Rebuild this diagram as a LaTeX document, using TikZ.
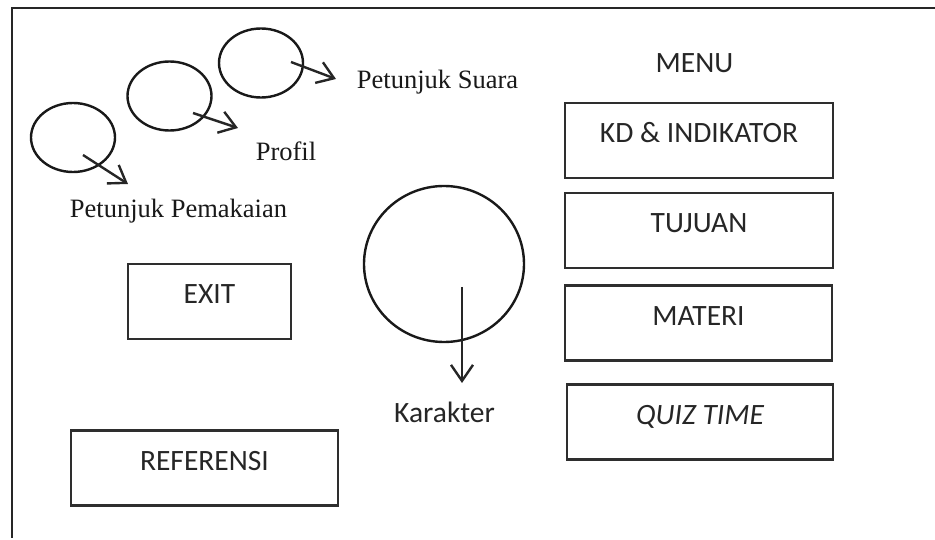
\documentclass[tikz,border=0pt]{standalone}
\usepackage{fontspec}
\setmainfont{Liberation Serif}
\newfontfamily\calibri{Carlito}
\usetikzlibrary{shapes.geometric,arrows.meta}

\begin{document}
\begin{tikzpicture}[x=1pt,y=-1pt,
  frame/.style={line width=2.4pt, draw=black!85},
  bubble/.style={draw=black!90, line width=2.4pt, ellipse, inner sep=0pt,
    minimum width=84pt, minimum height=69pt},
  pointer/.style={line width=2.4pt, draw=black!85,
    -{Straight Barb[length=16pt,width=22pt]}},
  serif/.style={font=\fontsize{26.5}{30}\selectfont, text=black!90,
    inner sep=0pt, anchor=base},
  sans/.style={font=\calibri\fontsize{29.5}{33}\selectfont, text=black!85,
    inner sep=0pt, anchor=base},
  menubox/.style={draw=black!82, line width=2.4pt,
    font=\calibri\fontsize{29.5}{33}\selectfont, text=black!85,
    minimum height=75pt, text height=19pt, text depth=14pt, inner sep=0pt},
]
\useasboundingbox (0,0) rectangle (935,540);

% page frame (top and left edges)
\coordinate (frameTR) at (935,8);
\coordinate (frameTL) at (12,8);
\coordinate (frameBL) at (12,538);
\draw[frame] (frameTR) -- (frameTL) -- (frameBL);

% round buttons with their pointers
\node[bubble] (suara) at (261,63) {};
\node[bubble] (profil) at (169.5,96) {};
\node[bubble] (pemakaian) at (73,137.5) {};
\node[bubble, minimum width=160pt, minimum height=156pt] (karakter) at (444,264) {};

\coordinate (suaraA) at (291,62);
\coordinate (suaraB) at (336,79);
\coordinate (profilA) at (193,113);
\coordinate (profilB) at (238,128);
\coordinate (pemakaianA) at (83,155);
\coordinate (pemakaianB) at (128,184);
\coordinate (karakterA) at (462,287);
\coordinate (karakterB) at (462,383);

\draw[pointer] (suaraA) -- (suaraB);
\draw[pointer] (profilA) -- (profilB);
\draw[pointer] (pemakaianA) -- (pemakaianB);
\draw[pointer] (karakterA) -- (karakterB);

% labels
\node[serif] (suaraT) at (437.5,89) {Petunjuk Suara};
\node[serif] (profilT) at (286,161) {Profil};
\node[serif] (pemakaianT) at (178.5,218) {Petunjuk Pemakaian};
\node[sans] (karakterT) at (444.5,422) {Karakter};
\node[sans] (menuT) at (694.5,73) {MENU};

% menu buttons
\node[menubox, minimum width=268pt] (kd) at (699,140.5) {KD \& INDIKATOR};
\node[menubox, minimum width=268pt] (tujuan) at (699,230.5) {TUJUAN};
\node[menubox, minimum width=267pt] (materi) at (698.5,323) {MATERI};
\node[menubox, minimum width=266pt] (quiz) at (700,422) {\itshape QUIZ TIME};
\node[menubox, minimum width=163pt] (exit) at (209.5,301.5) {EXIT};
\node[menubox, minimum width=267pt] (referensi) at (204.5,468) {REFERENSI};
\end{tikzpicture}
\end{document}
